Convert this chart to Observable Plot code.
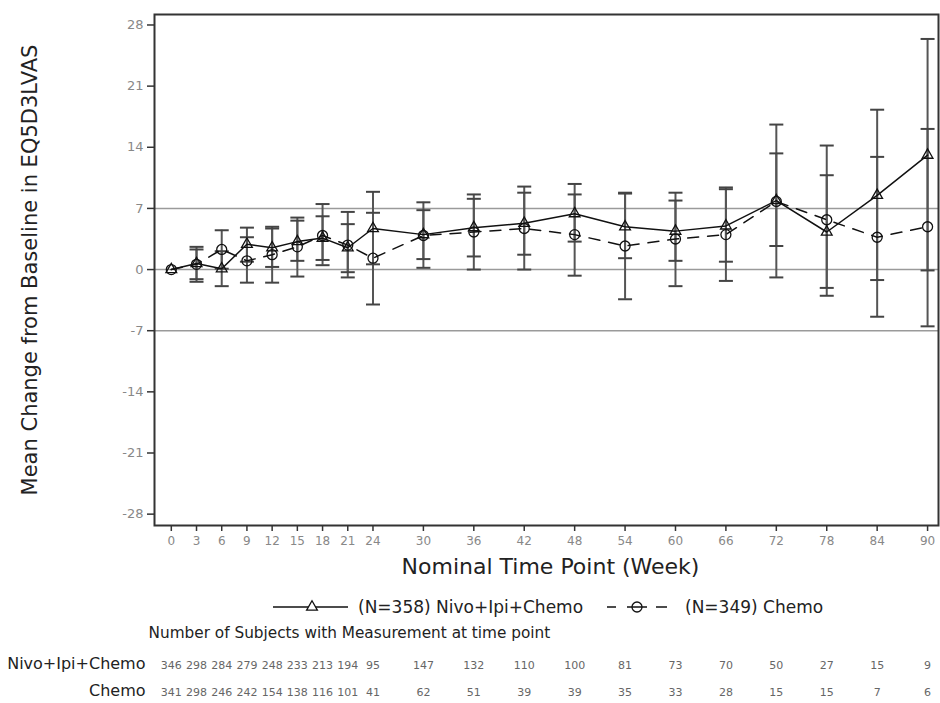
<!DOCTYPE html>
<html><head><meta charset="utf-8">
<script src="https://cdn.jsdelivr.net/npm/d3@7"></script>
<script src="https://cdn.jsdelivr.net/npm/@observablehq/plot@0.6"></script>
<style>body{margin:0;background:#fff;} svg{font-family:"DejaVu Sans",sans-serif;}</style>
</head><body><div id="chart"></div>
<script>
const weeks = [0,3,6,9,12,15,18,21,24,30,36,42,48,54,60,66,72,78,84,90];
const nivoMean = [0,0.7,0.1,2.9,2.5,3.2,3.6,2.5,4.7,4.0,4.8,5.3,6.4,4.9,4.4,5.0,7.9,4.3,8.5,13.1];
const nivoLo   = [null,-1.1,-1.9,0.9,0.3,1.0,1.1,-0.3,0.6,0.2,1.5,1.7,3.2,1.3,1.0,0.9,2.7,-2.1,-1.2,-0.1];
const nivoHi   = [null,2.6,2.1,4.8,4.7,5.6,6.1,5.2,8.9,7.7,8.1,8.8,9.8,8.7,7.9,9.2,13.3,10.8,18.3,26.4];
const chemoMean = [0,0.6,2.3,1.0,1.7,2.6,3.9,2.8,1.3,3.9,4.3,4.7,4.0,2.7,3.5,4.0,7.8,5.7,3.7,4.9];
const chemoLo   = [null,-1.4,0.1,-1.5,-1.5,-0.8,0.5,-0.9,-4.0,1.2,0.0,0.0,-0.7,-3.4,-1.9,-1.3,-0.9,-3.0,-5.4,-6.5];
const chemoHi   = [null,2.3,4.5,3.7,4.9,5.95,7.5,6.6,6.5,6.8,8.6,9.5,8.6,8.8,8.8,9.4,16.6,14.2,12.9,16.1];
const nivoN  = [346,298,284,279,248,233,213,194,95,147,132,110,100,81,73,70,50,27,15,9];
const chemoN = [341,298,246,242,154,138,116,101,41,62,51,39,39,35,33,28,15,15,7,6];
const yTicks = [-28,-21,-14,-7,0,7,14,21,28];
const refLines = [-7,0,7];
const yTitle = "Mean Change from Baseline in EQ5D3LVAS";
const xTitle = "Nominal Time Point (Week)";
const nivoLabel = "(N=358) Nivo+Ipi+Chemo";
const chemoLabel = "(N=349) Chemo";
const tableTitle = "Number of Subjects with Measurement at time point";
const rowLabels = ["Nivo+Ipi+Chemo", "Chemo"];

const nivo = weeks.map((w,i) => ({week:w, mean:nivoMean[i], lo:nivoLo[i], hi:nivoHi[i], n:nivoN[i]}));
const chemo = weeks.map((w,i) => ({week:w, mean:chemoMean[i], lo:chemoLo[i], hi:chemoHi[i], n:chemoN[i]}));
const bars = [...nivo, ...chemo].filter(d => d.lo != null);

const capSymbol = {draw(ctx, size){ const w = Math.sqrt(size/Math.PI); ctx.moveTo(-w,0); ctx.lineTo(w,0);} };

const plot = Plot.plot({
  width: 940, height: 703,
  marginTop: 14, marginLeft: 154, marginRight: 2, marginBottom: 178,
  style: {fontFamily: "DejaVu Sans, sans-serif", background: "white"},
  x: {domain: [-2, 91.3], label: null},
  y: {domain: [-29.3, 29.2], label: null},
  marks: [
    Plot.ruleY(refLines, {stroke: "#9a9a9a", strokeWidth: 1.5}),
    Plot.ruleX(bars, {x: "week", y1: "lo", y2: "hi", stroke: "#555", strokeWidth: 2}),
    Plot.dot(bars, {x: "week", y: "lo", symbol: capSymbol, r: 7, stroke: "#444", strokeWidth: 2}),
    Plot.dot(bars, {x: "week", y: "hi", symbol: capSymbol, r: 7, stroke: "#444", strokeWidth: 2}),
    Plot.line(nivo, {x: "week", y: "mean", stroke: "#111", strokeWidth: 1.5}),
    Plot.line(chemo, {x: "week", y: "mean", stroke: "#111", strokeWidth: 1.5, strokeDasharray: "11,9"}),
    Plot.dot(nivo, {x: "week", y: "mean", symbol: "triangle", r: 4, stroke: "#111", strokeWidth: 1.3, fill: "none"}),
    Plot.dot(chemo, {x: "week", y: "mean", symbol: "circle", r: 5, stroke: "#111", strokeWidth: 1.3, fill: "none"}),
    Plot.frame({stroke: "#333", strokeWidth: 2}),
    Plot.axisY(yTicks, {tickSize: 7, tickPadding: 4, stroke: "#333", strokeWidth: 1.5, fill: "#888", fontSize: 13, tickFormat: d => String(d), label: null}),
    Plot.axisX(weeks, {tickSize: 6, tickPadding: 5, stroke: "#333", strokeWidth: 1.5, fill: "#888", fontSize: 12, tickFormat: d => String(d), label: null}),
    Plot.text([yTitle], {frameAnchor: "left", textAnchor: "middle", rotate: -90, dx: -124, fontSize: 21, fill: "#222"}),
    Plot.text([xTitle], {frameAnchor: "bottom", dx: 4, dy: 48, fontSize: 22, fill: "#222"}),
    Plot.text([tableTitle], {frameAnchor: "bottom-left", dx: -6, dy: 112, textAnchor: "start", fontSize: 15.3, fill: "#222"}),
    Plot.text([rowLabels[0]], {frameAnchor: "bottom-left", dx: -9, dy: 143, textAnchor: "end", fontSize: 16, fill: "#222"}),
    Plot.text([rowLabels[1]], {frameAnchor: "bottom-left", dx: -9, dy: 170, textAnchor: "end", fontSize: 16, fill: "#222"}),
    Plot.text(nivo, {x: "week", text: d => String(d.n), frameAnchor: "bottom", dy: 143, fontSize: 11, fill: "#666"}),
    Plot.text(chemo, {x: "week", text: d => String(d.n), frameAnchor: "bottom", dy: 170, fontSize: 11, fill: "#666"})
  ]
});
document.getElementById("chart").append(plot);

// legend
const svg = d3.select(plot);
const g = svg.append("g").attr("transform", "translate(0,607)").attr("font-family", "DejaVu Sans, sans-serif");
g.append("line").attr("x1", 273).attr("x2", 348).attr("stroke", "#111").attr("stroke-width", 1.5);
g.append("path").attr("d", d3.symbol(d3.symbolTriangle, Math.PI*4*4)()).attr("transform", "translate(312,0)")
  .attr("fill", "white").attr("stroke", "#111").attr("stroke-width", 1.3);
g.append("text").attr("x", 358).attr("dy", "0.35em").attr("text-anchor", "start").attr("font-size", 17).attr("fill", "#222").text(nivoLabel);
[[607,616],[627,647],[656,667]].forEach(([a,b]) =>
  g.append("line").attr("x1", a).attr("x2", b).attr("stroke", "#111").attr("stroke-width", 1.5));
g.append("circle").attr("cx", 637).attr("r", 5).attr("fill", "none").attr("stroke", "#111").attr("stroke-width", 1.3);
g.append("text").attr("x", 685).attr("dy", "0.35em").attr("text-anchor", "start").attr("font-size", 17).attr("fill", "#222").text(chemoLabel);
</script>
</body></html>
